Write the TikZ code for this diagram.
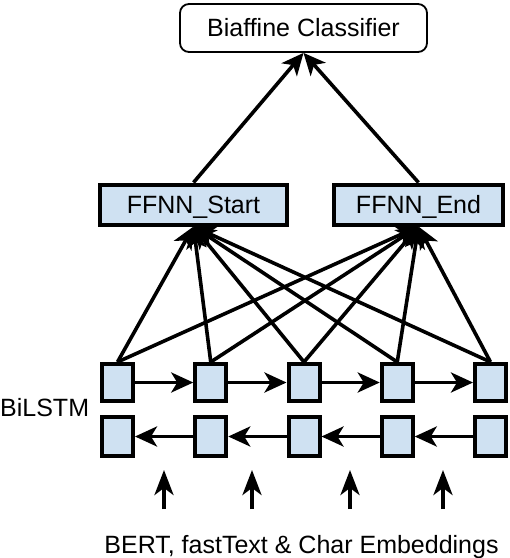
\documentclass[tikz,border=0pt]{standalone}
\usepackage{fontspec}
\setmainfont{Liberation Sans}
\usetikzlibrary{arrows.meta}
\definecolor{boxfill}{RGB}{207,225,242}
\begin{document}
\begin{tikzpicture}[x=1pt,y=-1pt,
  every node/.style={font=\fontsize{25}{30}\selectfont},
  lstm/.style={draw=black,fill=boxfill,line width=4pt,minimum width=31pt,minimum height=37pt,inner sep=0pt},
  ffnn/.style={draw=black,fill=boxfill,line width=4pt,minimum height=40pt,inner sep=0pt,text height=17.9pt,text depth=0pt},
  topbox/.style={draw=black,fill=white,line width=1.8pt,rounded corners=9pt,minimum width=247pt,minimum height=48pt,inner sep=0pt,text height=17.9pt,text depth=0pt},
  conn/.style={line width=3.6pt,-{Stealth[length=22pt,width=20pt,inset=6pt]}},
  inarrow/.style={line width=3.8pt,-{Stealth[length=25pt,width=19pt,inset=7pt]}},
  lbl/.style={inner sep=0pt,text height=17.9pt,text depth=0pt}
]
\useasboundingbox (0,0) rectangle (510,558);

\node[topbox] (bia) at (303.5,28) {Biaffine Classifier};
\node[ffnn,minimum width=187pt] (fs) at (193.5,204.5) {FFNN\_Start};
\node[ffnn,minimum width=169pt] (fe) at (418.5,204.5) {FFNN\_End};

\foreach \i/\x in {1/117.5,2/210.75,3/304,4/397.25,5/490.5}{
  \node[lstm] (f\i) at (\x,382.5) {};
  \node[lstm,minimum height=39pt] (b\i) at (\x,436.5) {};
}

\node[lbl,anchor=west] (bil) at (0,408) {BiLSTM};

% forward / backward arrows
\foreach \i/\j in {1/2,2/3,3/4,4/5}{
  \draw[conn] (f\i.east) -- (f\j.west);
  \draw[conn] (b\j.west) -- (b\i.east);
}

% LSTM to FFNN
\foreach \i in {1,...,5}{
  \draw[conn] (f\i.north) -- (fs.south);
  \draw[conn] (f\i.north) -- (fe.south);
}

% FFNN to classifier
\draw[conn] (fs.north) -- (bia.south);
\draw[conn] (fe.north) -- (bia.south);

% inputs
\foreach \k/\x in {1/164,2/252,3/350,4/443}{
  \coordinate (ia\k) at (\x,509);
  \coordinate (ib\k) at (\x,470);
  \draw[inarrow] (ia\k) -- (ib\k);
}

\node[lbl,anchor=base] (emb) at (301.5,553) {BERT, fastText \& Char Embeddings};
\end{tikzpicture}
\end{document}
